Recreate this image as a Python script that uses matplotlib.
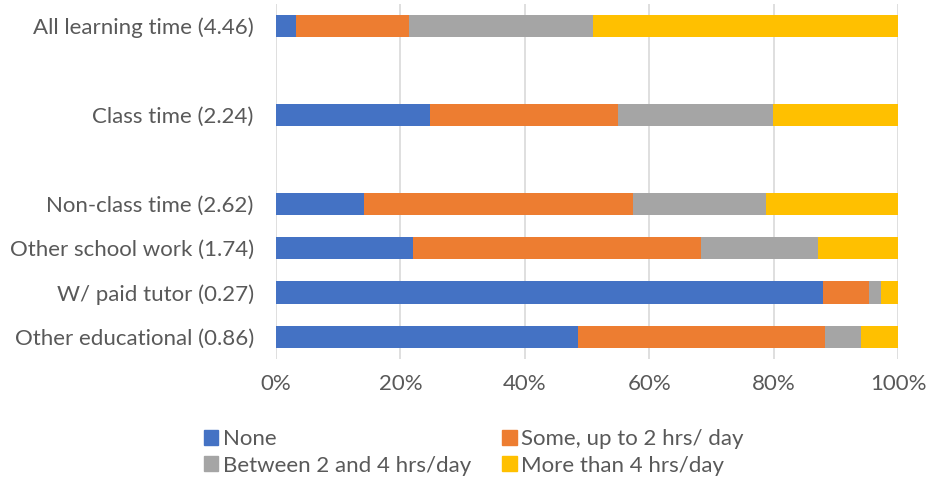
import numpy as np
import matplotlib
matplotlib.use("Agg")
import matplotlib.pyplot as plt
from matplotlib.patches import Patch
from matplotlib.ticker import PercentFormatter

plt.rcParams["font.family"] = ["Lato", "DejaVu Sans"]

# rows from top to bottom; empty strings are spacer rows
categories = ["All learning time (4.46)", "", "Class time (2.24)", "",
              "Non-class time (2.62)", "Other school work (1.74)",
              "W/ paid tutor (0.27)", "Other educational (0.86)"]
none_pct = [3.2, 0, 24.7, 0, 14.2, 22.1, 88.0, 48.5]
some_pct = [18.2, 0, 30.3, 0, 43.2, 46.3, 7.3, 39.8]
between_pct = [29.6, 0, 24.9, 0, 21.4, 18.8, 1.9, 5.8]
more_pct = [49.0, 0, 20.1, 0, 21.2, 12.8, 2.8, 5.9]

series = [
    ("None", none_pct, "#4472C4"),
    ("Some, up to 2 hrs/ day", some_pct, "#ED7D31"),
    ("Between 2 and 4 hrs/day", between_pct, "#A5A5A5"),
    ("More than 4 hrs/day", more_pct, "#FFC000"),
]

text_color = "#595959"
fs = 16

fig = plt.figure(figsize=(9.28, 4.8), dpi=100)
ax = fig.add_axes([276 / 928, 1 - 359 / 480, 622 / 928, 355 / 480])

y = np.arange(len(categories))
left = np.zeros(len(categories))
for name, vals, color in series:
    vals = np.array(vals, dtype=float)
    ax.barh(y, vals, left=left, height=0.5, color=color, label=name,
            linewidth=0, zorder=3)
    left += vals

ax.set_yticks(y)
ax.set_yticklabels(categories)
ax.set_ylim(len(categories) - 0.5, -0.5)
ax.set_xlim(0, 100)
ax.set_xticks(np.arange(0, 101, 20))
ax.xaxis.set_major_formatter(PercentFormatter(decimals=0))
ax.grid(axis="x", color="#D9D9D9", linewidth=1.2, zorder=0)
for s in ax.spines.values():
    s.set_visible(False)
ax.tick_params(length=0, labelsize=fs, colors=text_color)
ax.tick_params(axis="y", pad=16)
ax.tick_params(axis="x", pad=11)

# legend fills column-wise, so order entries to read row-wise
order = [0, 2, 1, 3]
handles = [Patch(color=series[i][2], label=series[i][0]) for i in order]
leg = fig.legend(handles=handles, ncol=2, loc="upper left",
                 bbox_to_anchor=(184 / 928, 1 - 409 / 480), frameon=False,
                 fontsize=fs, handlelength=0.65, handleheight=0.65,
                 handletextpad=0.2, columnspacing=1.4, labelspacing=0.3)
for t in leg.get_texts():
    t.set_color(text_color)

fig.savefig("out.png", dpi=100)
